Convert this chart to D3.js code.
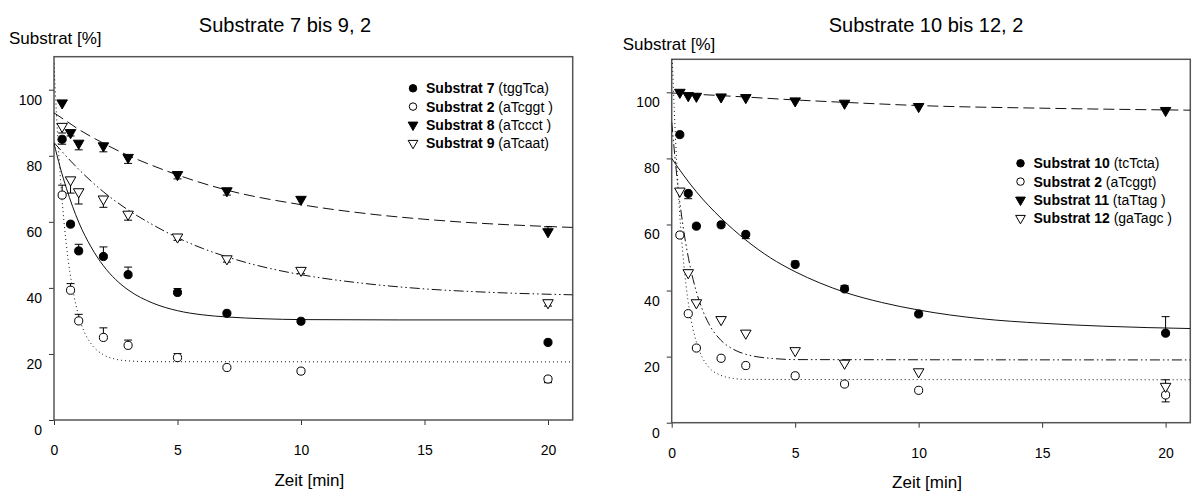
<!DOCTYPE html>
<html><head><meta charset="utf-8">
<script src="https://cdn.jsdelivr.net/npm/d3@7"></script>
<style>
html,body{margin:0;padding:0;background:#fff;}
svg{display:block;font-family:"Liberation Sans",Arial,sans-serif;}
</style></head>
<body><svg id="c" width="1193" height="493"></svg>
<script>
// ---------- data ----------
const times = [0.33, 0.67, 1, 2, 3, 5, 7, 10, 20];
const xTicks = [0, 5, 10, 15, 20];
const yTicks = [0, 20, 40, 60, 80, 100];

// left panel: Substrate 7 bis 9, 2
const titleL = "Substrate 7 bis 9, 2";
const s7  = [85.0, 59.3, 51.2, 49.5, 44.0, 38.6, 32.3, 29.9, 23.5];
const e7  = [-1.5, 0, 2, 2.9, 2.3, 1.2, 0, 0, 0];
const s2L = [68.1, 39.3, 30.0, 25.0, 22.6, 18.9, 15.9, 14.8, 12.4];
const e2L = [3, 2, 2, 2.9, 1.6, 1.2, 0, 0, -1.1];
const s8  = [96.0, 87.0, 83.8, 83.0, 79.5, 74.3, 69.4, 66.8, 57.0];
const e8  = [0, -1, -2, -1.8, -1.8, -1.3, -1.3, 0, 1.5];
const s9  = [88.9, 72.7, 69.1, 66.9, 62.3, 55.4, 48.8, 45.3, 35.5];
const e9  = [-2, -4, -3.7, -2.5, -1.8, -1, -1, -1, -1];

// fitted curves
const fit7X = [0, 0.25, 0.5, 0.75, 1, 1.5, 2, 2.5, 3, 4, 5, 6, 7, 8.5, 10, 14, 21];
const fit7Y = [83.8, 76.5, 70.2, 64.7, 59.9, 52.4, 46.7, 42.5, 39.4, 35.4, 33.1, 31.85, 31.2, 30.65, 30.4, 30.3, 30.3];
const fit2LX = [0, 0.1, 0.2, 0.3, 0.4, 0.5, 0.65, 0.8, 1, 1.25, 1.5, 2, 2.5, 3, 4, 21];
const fit2LY = [108, 92.6, 79.8, 69.2, 60.4, 53.1, 44.4, 37.9, 31.5, 26.3, 23.1, 19.75, 18.4, 17.9, 17.65, 17.6];
const fit8X = [0, 0.5, 1, 2, 3, 4, 5, 7, 10, 13, 16, 21];
const fit8Y = [93.0, 90.5, 88.0, 83.8, 80.1, 77.0, 74.2, 69.6, 65.2, 62.2, 60.2, 58.3];
const fit9X = [0, 1, 2, 3, 4, 5, 6, 7, 8.5, 10, 12.5, 15, 17.5, 21];
const fit9Y = [84, 75.9, 69.1, 63.6, 59.1, 55.2, 52.0, 49.4, 46.3, 44.0, 41.4, 39.7, 38.7, 37.9];

// right panel: Substrate 10 bis 12, 2
const titleR = "Substrate 10 bis 12, 2";
const s10 = [87.2, 69.4, 59.5, 59.9, 57.0, 47.9, 40.5, 32.9, 27.1];
const e10 = [0, -1.6, 0, 0, -1.3, 1, 1, 0, 5];
const s2R = [56.8, 33.0, 22.6, 19.5, 17.3, 14.2, 11.7, 9.8, 8.4];
const e2R = [0, 0, 0, 0, 0, 0, 0, 0, -2.1];
const s11 = [100.0, 99.0, 98.8, 98.6, 98.4, 97.4, 96.7, 95.7, 94.5];
const e11 = [0, 0, 0, 0, 0, 0, 0, 0, 0];
const s12 = [70.1, 45.4, 36.3, 31.2, 27.1, 21.8, 18.0, 15.4, 11.0];
const e12 = [0, 0, 0, 0, 0, 0, 0, 0, 2];

const fit10X = [0, 0.5, 1, 2, 3, 4, 5, 6, 7, 8.5, 10, 12.5, 15, 17.5, 21];
const fit10Y = [80, 74.7, 69.9, 61.9, 55.3, 49.9, 45.7, 42.3, 39.5, 36.4, 34.1, 31.5, 30.1, 29.2, 28.5];
const fit2RX = [0, 0.1, 0.2, 0.3, 0.4, 0.5, 0.65, 0.8, 1, 1.25, 1.5, 2, 2.5, 3, 21];
const fit2RY = [115, 95.4, 79.1, 66.0, 55.6, 47.2, 37.5, 30.6, 24.4, 19.6, 16.8, 14.3, 13.4, 13.1, 13.0];
const fit11X = [0, 2.5, 5, 7.5, 10, 15, 21];
const fit11Y = [99.8, 98.8, 97.7, 96.8, 96.0, 95.2, 94.6];
const fit12X = [0, 0.25, 0.5, 0.75, 1, 1.25, 1.5, 2, 2.5, 3, 3.5, 4, 5, 21];
const fit12Y = [91, 71.7, 57.5, 47.2, 39.6, 34.1, 30.0, 24.9, 22.2, 20.7, 19.9, 19.5, 19.1, 19.0];

const legendL = [["Substrat 7", "(tggTca)"], ["Substrat 2", "(aTcggt )"], ["Substrat 8", "(aTccct )"], ["Substrat 9", "(aTcaat)"]];
const legendR = [["Substrat 10", "(tcTcta)"], ["Substrat 2", "(aTcggt)"], ["Substrat 11", "(taTtag )"], ["Substrat 12", "(gaTagc )"]];

const yLabel = "Substrat [%]";
const xLabel = "Zeit [min]";

// ---------- drawing ----------
const svg = d3.select("#c");
const markerStyles = {
  fc: {shape: d3.symbolCircle, size: 52, fill: "#000"},
  oc: {shape: d3.symbolCircle, size: 52, fill: "#fff"},
  ft: {shape: d3.symbolTriangle, size: 48, fill: "#000", rot: 180},
  ot: {shape: d3.symbolTriangle, size: 48, fill: "#fff", rot: 180}
};
const dashes = {solid: null, dotted: "1,3", dashed: "11,5", dashdot: "10,3,1.5,3,1.5,3"};

function panel(cfg, idx) {
  const g = svg.append("g");
  const x = d3.scaleLinear().domain([0, 21]).range([cfg.x0, cfg.x1]);
  const y = d3.scaleLinear().domain([0, 110]).range([cfg.y1, cfg.y0]);

  // axes
  const ya = g.append("g").attr("transform", `translate(${cfg.x0},0)`)
    .call(d3.axisLeft(y).tickValues(yTicks).tickSize(5).tickPadding(7));
  ya.select(".domain").remove();
  ya.selectAll("line").attr("stroke", "#333");
  ya.selectAll("text").attr("y", 10).attr("font-size", 14).attr("fill", "#000")
    .attr("font-family", "Liberation Sans, Arial, sans-serif");
  const xa = g.append("g").attr("transform", `translate(0,${cfg.y1})`)
    .call(d3.axisBottom(x).tickValues(xTicks).tickSize(5).tickPadding(20));
  xa.select(".domain").remove();
  xa.selectAll("line").attr("stroke", "#333");
  xa.selectAll("text").attr("font-size", 14).attr("fill", "#000")
    .attr("font-family", "Liberation Sans, Arial, sans-serif");

  // frame
  g.append("rect").attr("x", cfg.x0).attr("y", cfg.y0)
    .attr("width", cfg.x1 - cfg.x0).attr("height", cfg.y1 - cfg.y0)
    .attr("fill", "none").attr("stroke", "#555").attr("stroke-width", 1.5);

  // clip
  const cid = "clip" + idx;
  svg.append("clipPath").attr("id", cid).append("rect")
    .attr("x", cfg.x0).attr("y", cfg.y0).attr("width", cfg.x1 - cfg.x0).attr("height", cfg.y1 - cfg.y0);

  const line = d3.line().x(d => x(d[0])).y(d => y(d[1])).curve(d3.curveMonotoneX);
  cfg.fits.forEach(f => {
    g.append("path").attr("clip-path", `url(#${cid})`)
      .attr("d", line(d3.zip(f.xs, f.ys)))
      .attr("fill", "none").attr("stroke", "#111").attr("stroke-width", 1)
      .attr("stroke-dasharray", dashes[f.style]);
  });

  // error bars + markers
  cfg.series.forEach(s => {
    const pts = times.map((t, i) => ({t, v: s.vals[i], e: s.errs[i]}));
    const eb = g.append("g").attr("stroke", "#000").attr("stroke-width", 1);
    pts.filter(p => p.e !== 0).forEach(p => {
      const xp = x(p.t), y1 = y(p.v), y2 = y(p.v + p.e);
      eb.append("line").attr("x1", xp).attr("x2", xp).attr("y1", y1).attr("y2", y2);
      eb.append("line").attr("x1", xp - 4).attr("x2", xp + 4).attr("y1", y2).attr("y2", y2);
    });
    const m = markerStyles[s.marker];
    g.append("g").selectAll("path").data(pts).join("path")
      .attr("d", d3.symbol().type(m.shape).size(m.size))
      .attr("transform", p => `translate(${x(p.t)},${y(p.v)}) rotate(${m.rot || 0})`)
      .attr("fill", m.fill).attr("stroke", "#000").attr("stroke-width", 1);
  });

  // legend
  const lg = g.append("g");
  cfg.legend.forEach((l, i) => {
    const cy = cfg.legY + i * 18.3;
    const m = markerStyles[cfg.series[i].marker];
    lg.append("path").attr("d", d3.symbol().type(m.shape).size(m.size * 0.85))
      .attr("transform", `translate(${cfg.legX},${cy}) rotate(${m.rot || 0})`)
      .attr("fill", m.fill).attr("stroke", "#000");
    const t = lg.append("text").attr("x", cfg.legX + 13).attr("y", cy + 5)
      .attr("font-size", 14).attr("xml:space", "preserve");
    t.append("tspan").attr("font-weight", "bold").text(l[0]);
    t.append("tspan").text(" " + l[1]);
  });

  // titles
  g.append("text").attr("x", cfg.titleX).attr("y", 32).attr("text-anchor", "middle")
    .attr("font-size", 20).text(cfg.title);
  g.append("text").attr("x", cfg.ylabX).attr("y", cfg.ylabY).attr("font-size", 17).text(yLabel);
  g.append("text").attr("x", (cfg.x0 + cfg.x1) / 2 - 4).attr("y", cfg.xlabY).attr("text-anchor", "middle")
    .attr("font-size", 17).text(xLabel);
}

panel({
  x0: 54, x1: 572.7, y0: 56.7, y1: 420,
  title: titleL, titleX: 285, ylabX: 9, ylabY: 44, xlabY: 486,
  legX: 413, legY: 88.3, legend: legendL,
  series: [
    {vals: s7, errs: e7, marker: "fc"},
    {vals: s2L, errs: e2L, marker: "oc"},
    {vals: s8, errs: e8, marker: "ft"},
    {vals: s9, errs: e9, marker: "ot"}
  ],
  fits: [
    {xs: fit7X, ys: fit7Y, style: "solid"},
    {xs: fit2LX, ys: fit2LY, style: "dotted"},
    {xs: fit8X, ys: fit8Y, style: "dashed"},
    {xs: fit9X, ys: fit9Y, style: "dashdot"}
  ]
}, 0);

panel({
  x0: 671.7, x1: 1190.3, y0: 59.3, y1: 422.7,
  title: titleR, titleX: 926, ylabX: 622.7, ylabY: 50, xlabY: 488,
  legX: 1020.5, legY: 163.3, legend: legendR,
  series: [
    {vals: s10, errs: e10, marker: "fc"},
    {vals: s2R, errs: e2R, marker: "oc"},
    {vals: s11, errs: e11, marker: "ft"},
    {vals: s12, errs: e12, marker: "ot"}
  ],
  fits: [
    {xs: fit10X, ys: fit10Y, style: "solid"},
    {xs: fit2RX, ys: fit2RY, style: "dotted"},
    {xs: fit11X, ys: fit11Y, style: "dashed"},
    {xs: fit12X, ys: fit12Y, style: "dashdot"}
  ]
}, 1);
</script></body></html>
